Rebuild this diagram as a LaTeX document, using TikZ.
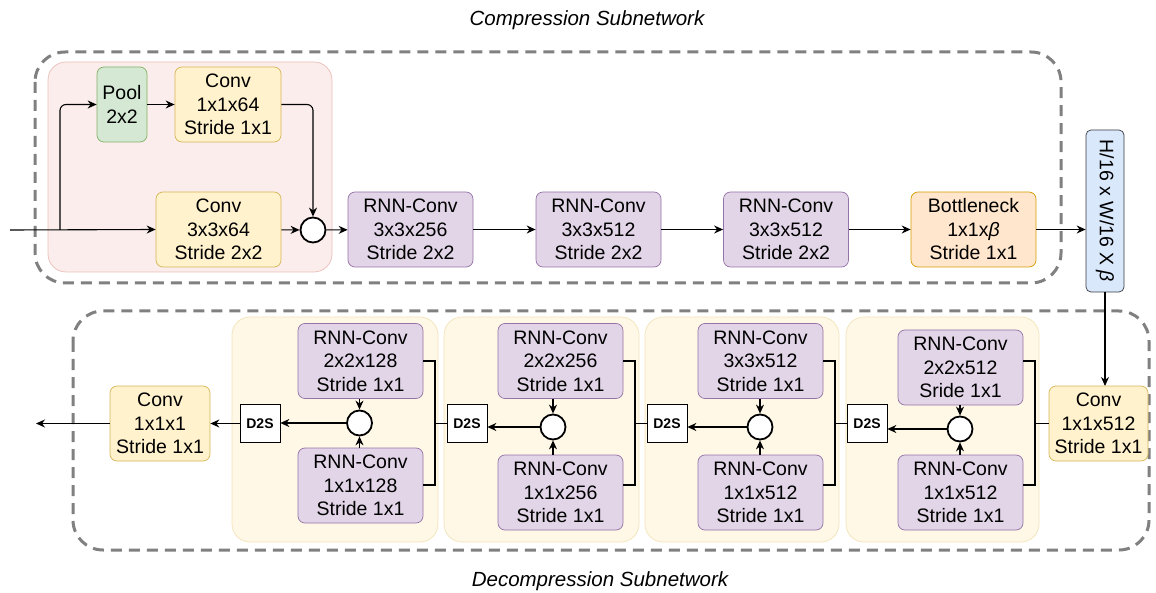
\documentclass[tikz,border=0pt]{standalone}
\usepackage{fontspec}
\setmainfont{Liberation Sans}
\usetikzlibrary{arrows.meta}
\definecolor{convfill}{HTML}{FFF2CC}
\definecolor{convline}{HTML}{D6B656}
\definecolor{rnnfill}{HTML}{E1D5E7}
\definecolor{rnnline}{HTML}{9673A6}
\definecolor{poolfill}{HTML}{D5E8D4}
\definecolor{poolline}{HTML}{82B366}
\definecolor{bnfill}{HTML}{FFE6CC}
\definecolor{bnline}{HTML}{D79B00}
\definecolor{codefill}{HTML}{DAE8FC}
\definecolor{codeline}{HTML}{36393D}
\definecolor{pinkfill}{HTML}{FAEDEB}
\definecolor{pinkline}{HTML}{EBBDB9}
\definecolor{stagefill}{HTML}{FFF8E7}
\definecolor{stageline}{HTML}{F2E3B8}
\definecolor{dashgray}{HTML}{808080}
\def\boxw{125pt}
\def\boxh{75pt}

\begin{document}
\begin{tikzpicture}[x=1pt,y=-1pt,>={Stealth[length=9pt,width=8pt]},line width=1.1pt]
    \tikzstyle{block}=[draw,rounded corners=7pt,align=center,inner sep=0pt,
        minimum width=\boxw,minimum height=\boxh,line width=0.7pt,
        font=\fontsize{19.5}{23.5}\selectfont]
    \tikzstyle{conv}=[block,fill=convfill,draw=convline]
    \tikzstyle{rnn}=[block,fill=rnnfill,draw=rnnline]
    \tikzstyle{adder}=[circle,draw,fill=white,line width=1.8pt,minimum size=25pt,inner sep=0pt]
    \tikzstyle{d2s}=[draw,fill=white,line width=0.7pt,minimum width=40pt,minimum height=38pt,
        inner sep=0pt,font=\bfseries\fontsize{14}{16}\selectfont]
    \tikzstyle{dashbox}=[draw=dashgray,line width=3pt,dash pattern=on 11pt off 7pt,rounded corners=30pt]
    \tikzstyle{stage}=[draw=stageline,fill=stagefill,rounded corners=18pt,line width=0.7pt]
    \tikzstyle{annot}=[font=\itshape\fontsize{20.5}{24}\selectfont]

    \useasboundingbox (0,0) rectangle (1156,593);

    % Draw the two subnetwork frames
    \draw[dashbox] (35,52) rectangle (1061,283);
    \draw[dashbox] (73,311) rectangle (1149,550);
    \node[annot] (ctitle) at (587,20) {Compression Subnetwork};
    \node[annot] (dtitle) at (600,581) {Decompression Subnetwork};

    % Draw the compression layers
    \path[stage,draw=pinkline,fill=pinkfill] (48,62) rectangle (332,272);
    \node[block,fill=poolfill,draw=poolline,minimum width=50pt] (pool) at (122,104.5) {Pool\\2x2};
    \node[conv,minimum width=106pt] (cv1) at (228,104.5) {Conv\\1x1x64\\Stride 1x1};
    \node[conv] (cv3) at (218.5,229.5) {Conv\\3x3x64\\Stride 2x2};
    \node[adder] (add) at (313,230) {};
    \node[rnn] (rc1) at (410.5,229.5) {RNN-Conv\\3x3x256\\Stride 2x2};
    \node[rnn] (rc2) at (598.5,229.5) {RNN-Conv\\3x3x512\\Stride 2x2};
    \node[rnn] (rc3) at (786,229.5) {RNN-Conv\\3x3x512\\Stride 2x2};
    \node[block,fill=bnfill,draw=bnline] (bn) at (973.5,229.5) {Bottleneck\\1x1x\textit{β}\\Stride 1x1};
    \node[block,fill=codefill,draw=codeline,rounded corners=5pt,minimum width=38pt,minimum height=162pt] (code) at (1105,211) {};
    \node[rotate=-90,font=\fontsize{19.5}{23.5}\selectfont] at (code) {H/16 x W/16 X \textit{β}};

    \coordinate (inp) at (10,230);
    \coordinate (split) at (60,230);
    \draw[->] (inp) -- (cv3.west);
    \draw[->,rounded corners=6pt] (split) |- (pool.west);
    \draw[->] (pool) -- (cv1);
    \draw[->,rounded corners=6pt] (cv1.east) -| (add.north);
    \draw[->] (cv3) -- (add);
    \draw[->] (add) -- (rc1);
    \draw[->] (rc1) -- (rc2);
    \draw[->] (rc2) -- (rc3);
    \draw[->] (rc3) -- (bn);
    \draw[->] (bn.east) -- (bn.east -| code.west);
    \draw[->] (code.south) -- (code.south |- 0,386);

    % Draw the decompression stages
    \foreach \xa/\xb in {232/438,444/639,645/839,846/1039}
        \path[stage] (\xa,317) rectangle (\xb,542);

    \foreach \n/\x/\yt/\yb/\ka/\kb/\s in {1/360.5/361/485.5/2x2x128/1x1x128/Stride,
            2/560.5/361/492.5/2x2x256/1x1x256/Stride,
            3/760.5/361/492.5/3x3x512/1x1x512/Stride,
            4/960.5/367.5/492.5/2x2x512/1x1x512/Sride} {
        \node[rnn] (rt\n) at (\x,\yt) {RNN-Conv\\\ka\\\s{} 1x1};
        \node[rnn] (rb\n) at (\x,\yb) {RNN-Conv\\\kb\\Stride 1x1};
    }
    \foreach \n/\x/\y in {1/359.5/423,2/553/427,3/760/427,4/960/429}
        \node[adder] (a\n) at (\x,\y) {};
    \foreach \n/\x in {1/260,2/467,3/667,4/867}
        \node[d2s] (d\n) at (\x,423.5) {D2S};
    \foreach \n/\x in {1/435,2/635,3/835,4/1035} {
        \coordinate (j\n) at (\x,423.5);
        \coordinate (jt\n) at (\x,361);
        \coordinate (jb\n) at (\x,485);
    }
    \node[conv,minimum width=99pt] (cv512) at (1098.5,423.5) {Conv\\1x1x512\\Stride 1x1};
    \node[conv,minimum width=100pt] (cvout) at (160,423.5) {Conv\\1x1x1\\Stride 1x1};
    \coordinate (outp) at (36,423.5);

    % Connect the layers inside every stage
    \foreach \n in {1,...,4} {
        \draw[->] (a\n |- rt\n.south) -- (a\n);
        \draw[->] (a\n |- rb\n.north) -- (a\n);
        \draw[->] (a\n) -- (a\n -| d\n.east);
        \draw (rt\n.east |- jt\n) -- (jt\n) -- (jb\n) -- (rb\n.east |- jb\n);
    }

    % Connect the stages with each other
    \draw (cv512.west) -- (j4);
    \draw (d4) -- (j3);
    \draw (d3) -- (j2);
    \draw (d2) -- (j1);
    \draw[->] (d1) -- (cvout);
    \draw[->] (cvout) -- (outp);
\end{tikzpicture}
\end{document}
